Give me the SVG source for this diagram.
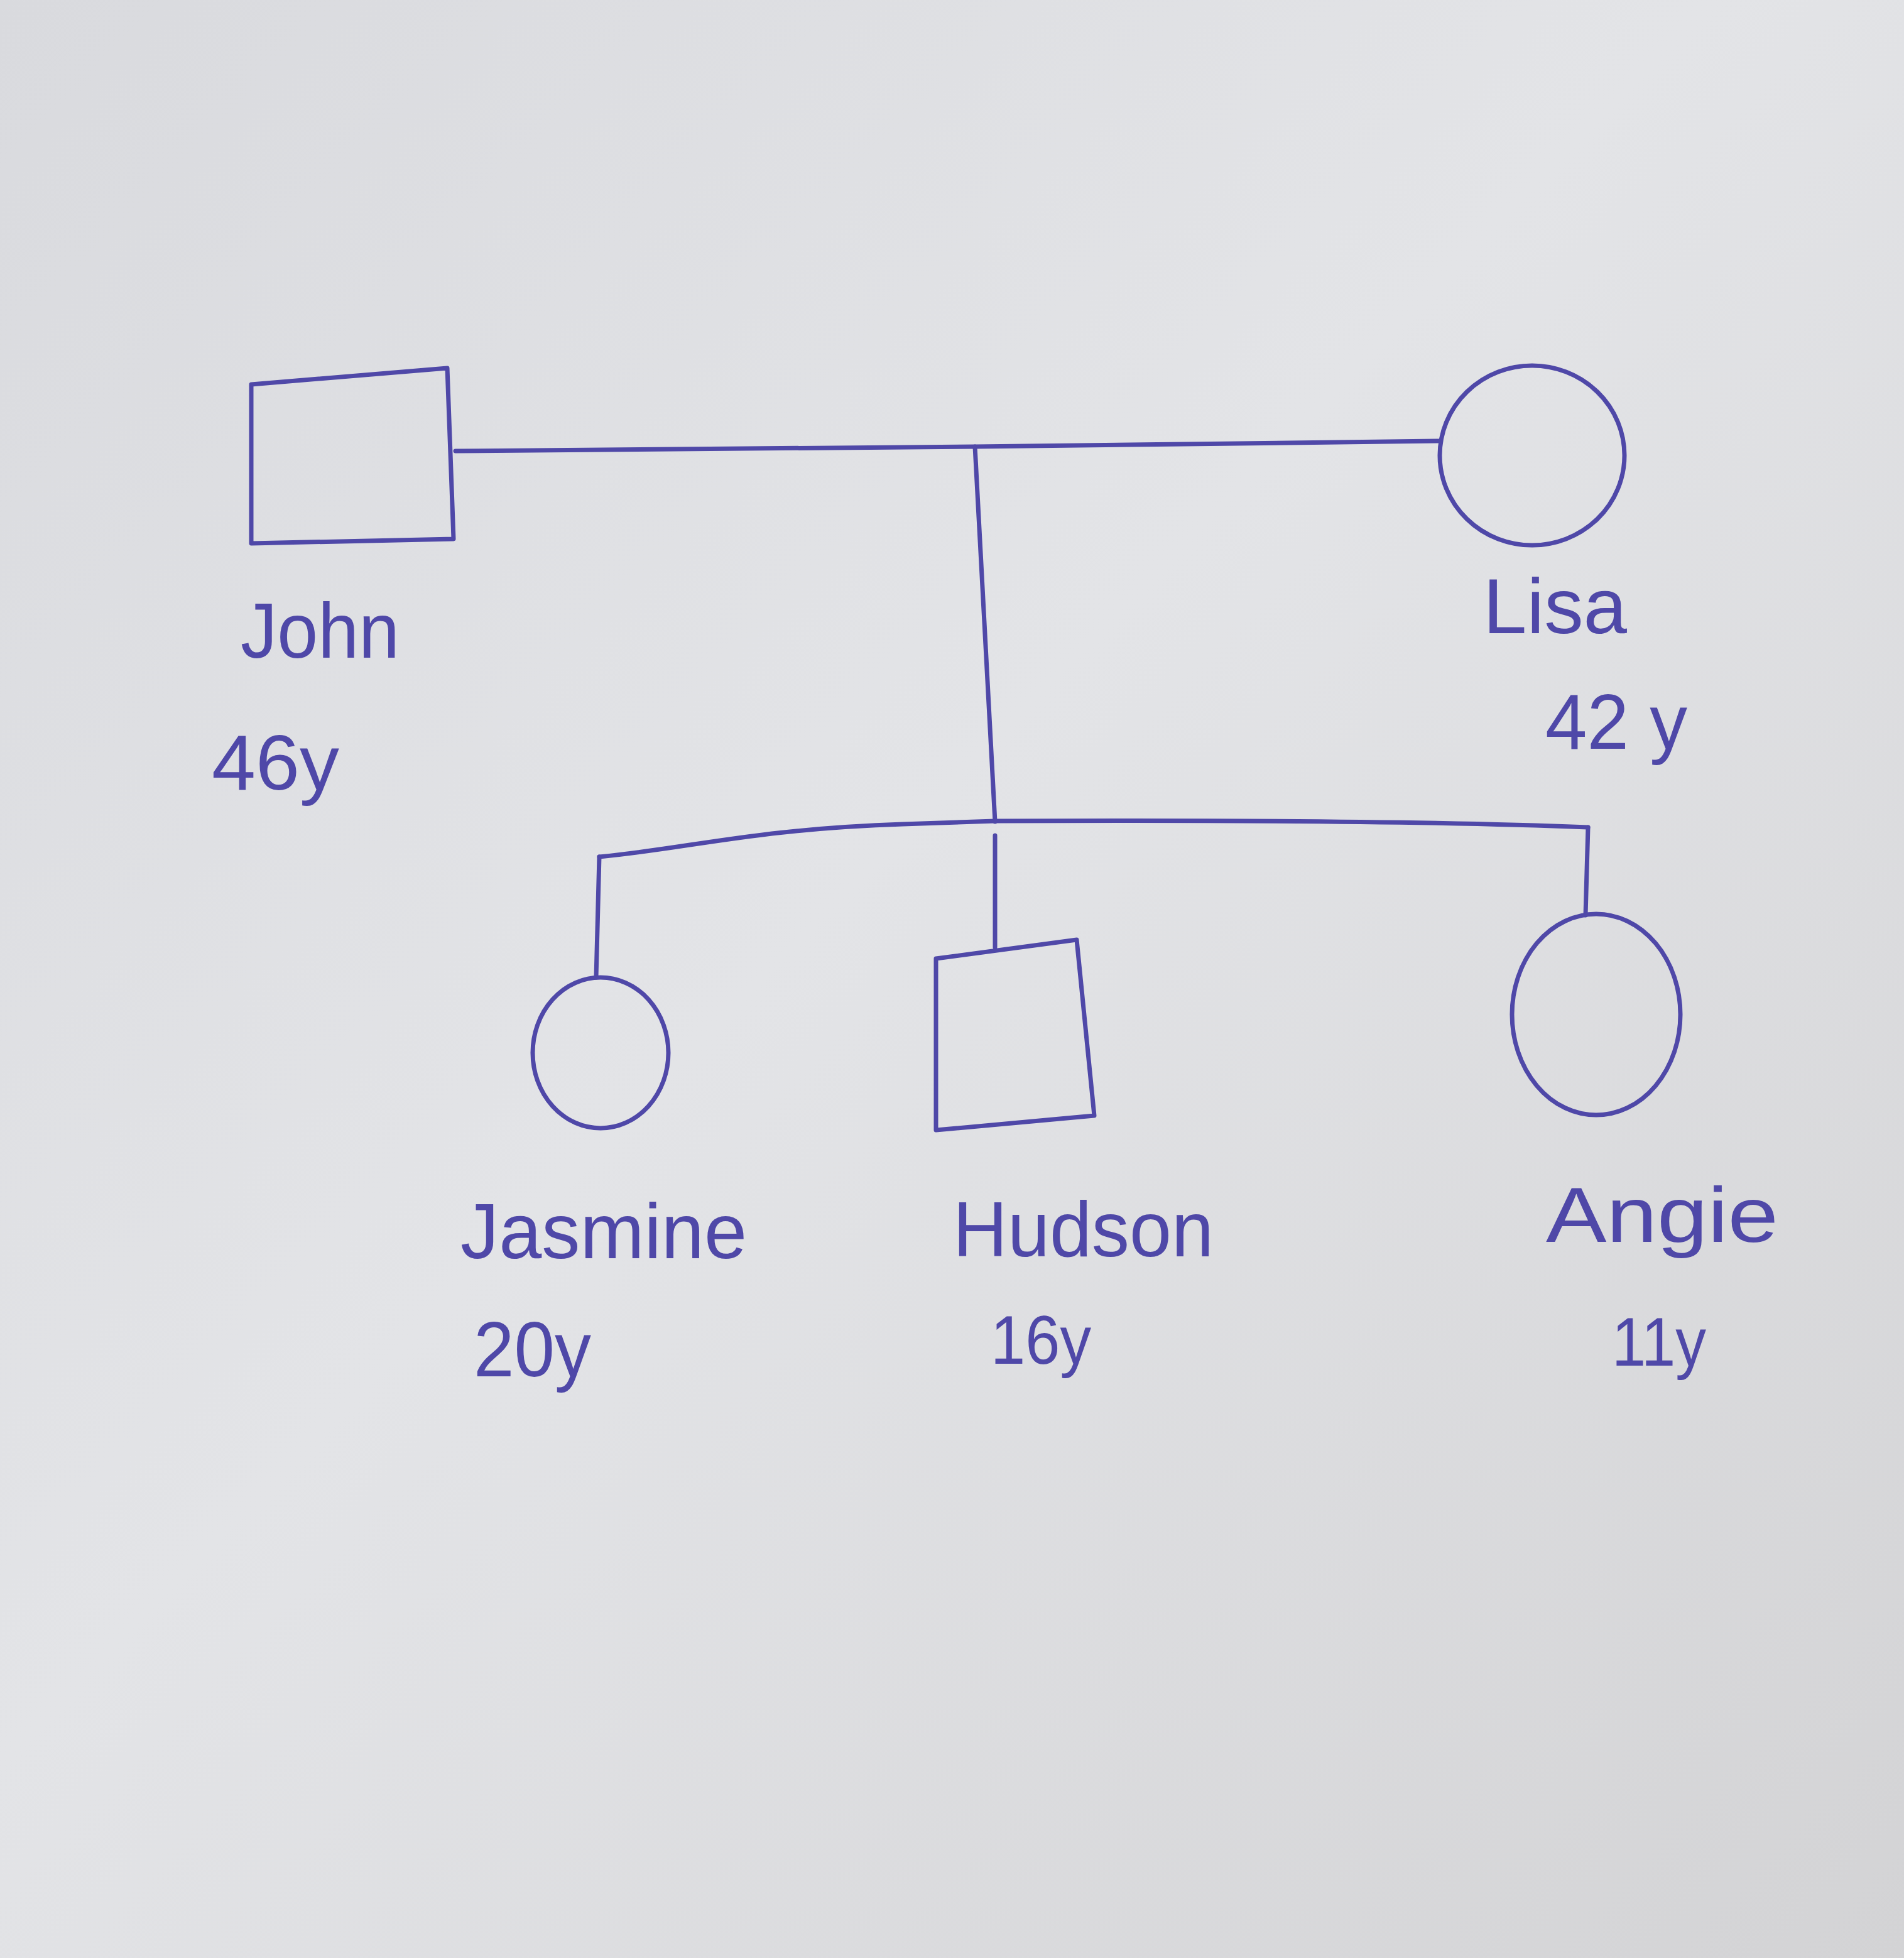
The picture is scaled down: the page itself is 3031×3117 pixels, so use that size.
<svg xmlns="http://www.w3.org/2000/svg" width="3031" height="3117" viewBox="0 0 3031 3117">
<defs>
<linearGradient id="paper" x1="0" y1="0" x2="1" y2="1">
<stop offset="0" stop-color="#d9dade"/>
<stop offset="0.45" stop-color="#e3e4e7"/>
<stop offset="1" stop-color="#d3d3d5"/>
</linearGradient>
<style>
.ink{fill:none;stroke:#4f48a8;stroke-width:7;stroke-linecap:round;stroke-linejoin:round}
.lbl{font-family:"Liberation Sans",Arial,sans-serif;font-size:125px;fill:#4f48a8}
.age{font-family:"Liberation Sans",Arial,sans-serif;font-size:110px;fill:#4f48a8}
</style>
</defs>
<rect x="0" y="0" width="3031" height="3117" fill="url(#paper)"/>
<g id="connectors">
<path class="ink" d="M725,718 L1552,711 L2292,702"/>
<path class="ink" d="M1552,711 L1584,1308"/>
<path class="ink" d="M954,1364 C1100,1350 1200,1320 1437,1312 L1584,1307 C2000,1305 2300,1308 2528,1317"/>
<path class="ink" d="M954,1364 L949,1556"/>
<path class="ink" d="M1584,1330 L1584,1508"/>
<path class="ink" d="M2528,1317 L2524,1457"/>
</g>
<g id="john">
<path class="ink" d="M400,612 L712,586 L722,858 L400,865 Z"/>
<text class="lbl" x="383" y="1047" textLength="253" lengthAdjust="spacingAndGlyphs">John</text>
<text class="lbl" x="337" y="1257" textLength="203" lengthAdjust="spacingAndGlyphs">46y</text>
</g>
<g id="lisa">
<ellipse class="ink" cx="2439" cy="725" rx="147" ry="143"/>
<text class="lbl" x="2361" y="1008" textLength="229" lengthAdjust="spacingAndGlyphs">Lisa</text>
<text class="lbl" x="2460" y="1192" textLength="226" lengthAdjust="spacingAndGlyphs">42 y</text>
</g>
<g id="jasmine">
<ellipse class="ink" cx="956" cy="1676" rx="108" ry="120"/>
<text class="lbl" x="733" y="2003" textLength="456" lengthAdjust="spacingAndGlyphs">Jasmine</text>
<text class="lbl" x="754" y="2191" textLength="187" lengthAdjust="spacingAndGlyphs">20y</text>
</g>
<g id="hudson">
<path class="ink" d="M1490,1526 L1714,1496 L1742,1776 L1490,1799 Z"/>
<text class="lbl" x="1517" y="2000" textLength="415" lengthAdjust="spacingAndGlyphs">Hudson</text>
<text class="age" x="1577" y="2171" textLength="160" lengthAdjust="spacingAndGlyphs">16y</text>
</g>
<g id="angie">
<ellipse class="ink" cx="2541" cy="1615" rx="134" ry="160"/>
<text class="lbl" x="2461" y="1977" textLength="370" lengthAdjust="spacingAndGlyphs">Angie</text>
<text class="age" x="2566" y="2174" textLength="150" lengthAdjust="spacingAndGlyphs">11y</text>
</g>
</svg>
